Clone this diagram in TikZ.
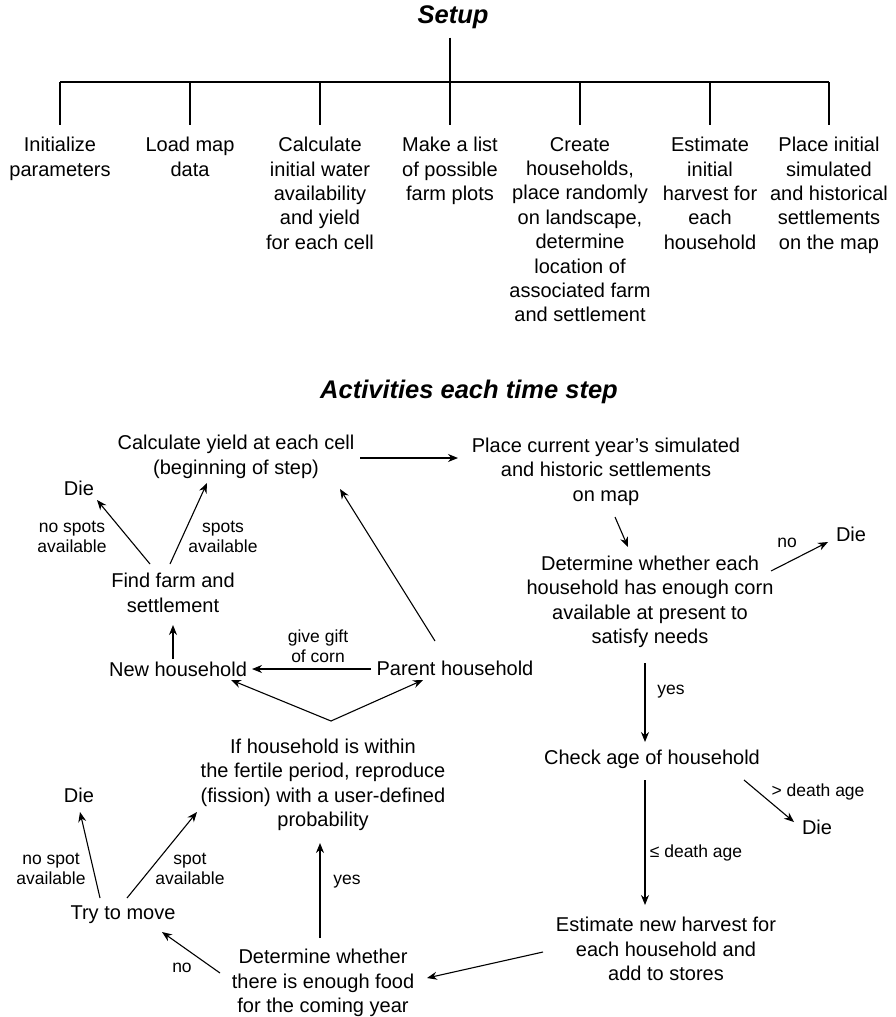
\documentclass[tikz,border=0pt]{standalone}
\usepackage{fontspec}
\setmainfont{Liberation Sans}
\usetikzlibrary{arrows.meta,calc}
\begin{document}
\begin{tikzpicture}[x=1pt,y=-1pt,
  txt/.style={align=center,inner sep=0pt,font=\fontsize{20}{24.4}\selectfont},
  lbl/.style={align=center,inner sep=0pt,font=\fontsize{17.5}{20.5}\selectfont},
  ttl/.style={inner sep=0pt,font=\fontsize{25.5}{30}\selectfont\bfseries\itshape},
  col/.style={txt,anchor=north,inner xsep=0pt,inner ysep=12pt},
  arr/.style={-{Stealth[length=10pt,width=8pt]},line width=1.1pt},
  ln/.style={line width=1.1pt}]
\useasboundingbox (0,0) rectangle (896,1017);
% ---------- Setup ----------
\node[ttl,inner ysep=9pt] (setup) at (453,17) {Setup};
\coordinate (hub) at (450,82);
\node[col] (c1) at (60,125) {Initialize\\parameters};
\node[col] (c2) at (190,125) {Load map\\data};
\node[col] (c3) at (320,125) {Calculate\\initial water\\availability\\and yield\\for each cell};
\node[col] (c4) at (450,125) {Make a list\\of possible\\farm plots};
\node[col] (c5) at (580,125) {Create\\households,\\place randomly\\on landscape,\\determine\\location of\\associated farm\\and settlement};
\node[col] (c6) at (710,125) {Estimate\\initial\\harvest for\\each\\household};
\node[col] (c7) at (829,125) {Place initial\\simulated\\and historical\\settlements\\on the map};
\draw[ln] (hub |- setup.south) -- (hub);
\draw[ln] (c1.north |- hub) -- (c7.north |- hub);
\foreach \c in {c1,c2,c3,c4,c5,c6,c7}
  \draw[ln] (\c.north |- hub) -- (\c.north);
% ---------- Activities ----------
\node[ttl] (act) at (469,392) {Activities each time step};
\node[txt] (calc) at (236,457) {Calculate yield at each cell\\(beginning of step)};
\node[txt] (place) at (606,471.5) {Place current year’s simulated\\and historic settlements\\on map};
\node[txt] (det) at (650,602) {Determine whether each\\household has enough corn\\available at present to\\satisfy needs};
\node[txt] (die1) at (851,534) {Die};
\node[txt] (check) at (652,759) {Check age of household};
\node[txt] (die2) at (817,827) {Die};
\node[txt] (est) at (666,949) {Estimate new harvest for\\each household and\\add to stores};
\node[txt] (food) at (323,983) {Determine whether\\there is enough food\\for the coming year};
\node[txt] (try) at (123,915) {Try to move};
\node[txt] (die3) at (79,795) {Die};
\node[txt] (fert) at (323,785) {If household is within\\the fertile period, reproduce\\(fission) with a user-defined\\probability};
\node[txt] (parent) at (455,668) {Parent household};
\node[txt] (new) at (178,669) {New household};
\node[txt] (find) at (173,593) {Find farm and\\settlement};
\node[txt] (die4) at (79,488) {Die};
% labels
\node[lbl] at (72,537) {no spots\\available};
\node[lbl] at (223,537) {spots\\available};
\node[lbl] at (318,646) {give gift\\of corn};
\node[lbl] at (787,543) {no};
\node[lbl] at (671,692) {yes};
\node[lbl] at (818,792) {> death age};
\node[lbl] at (696,853) {≤ death age};
\node[lbl] at (347,882) {yes};
\node[lbl] at (182,968) {no};
\node[lbl] at (190,869) {spot\\available};
\node[lbl] at (51,869) {no spot\\available};
% connectors
\draw[arr] ($(calc)+(124,1)$) -- ($(place)+(-148,-13.5)$);
\draw[arr] ($(place)+(9,45.5)$) -- ($(det)+(-22,-55)$);
\draw[arr] ($(det)+(121,-31)$) -- ($(die1)+(-23,8)$);
\draw[arr] ($(det)+(-5,61)$) -- ($(check)+(-7,-17)$);
\draw[arr] ($(check)+(92,21)$) -- ($(die2)+(-23,-5)$);
\draw[arr] ($(check)+(-7,21)$) -- ($(est)+(-21,-44)$);
\draw[arr] ($(est)+(-123,3)$) -- ($(food)+(104,-5)$);
\draw[arr] ($(food)+(-103,-10)$) -- ($(try)+(39,17)$);
\draw[arr] ($(food)+(-3,-45)$) -- ($(fert)+(-3,58)$);
\draw[arr] ($(try)+(4,-17)$) -- ($(fert)+(-126,27)$);
\draw[arr] ($(try)+(-23,-17)$) -- ($(die3)+(1,17)$);
\coordinate (apex) at ($(fert)+(8,-64)$);
\draw[arr] (apex) -- ($(new)+(53,11)$);
\draw[arr] (apex) -- ($(parent)+(-32,12)$);
\draw[arr] ($(parent)+(-84,1)$) -- ($(new)+(74,0)$);
\draw[arr] ($(parent)+(-20,-27)$) -- ($(calc)+(104,32)$);
\draw[arr] ($(new)+(-5,-10)$) -- ($(find)+(0,32)$);
\draw[arr] ($(find)+(-23,-29)$) -- ($(die4)+(18,12)$);
\draw[arr] ($(find)+(-3,-29)$) -- ($(calc)+(-29,26)$);
\end{tikzpicture}
\end{document}
